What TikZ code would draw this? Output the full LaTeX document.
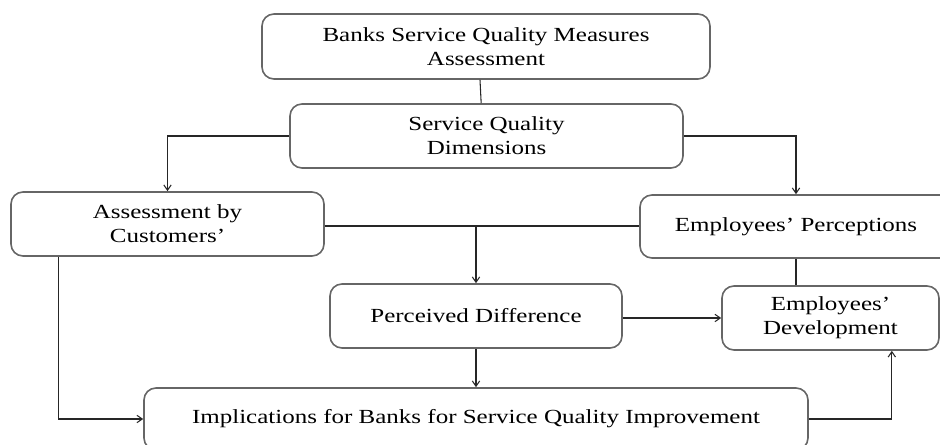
\documentclass[tikz,border=0pt]{standalone}
\usepackage{fontspec}
\setmainfont[FakeStretch=1.25]{Liberation Serif}
\usepackage{tikz}
\usetikzlibrary{arrows.meta}
\usetikzlibrary{calc}
\tikzset{>={Straight Barb[length=4pt,width=5.5pt]}}
\tikzset{
    blk/.style={draw=black!60, line width=1.2pt, rounded corners=9pt, align=center, inner sep=0pt, font=\fontsize{15}{18}\selectfont},
    link/.style={line width=0.8pt, black!85}
}

\begin{document}
\begin{tikzpicture}[x=0.75pt, y=-0.75pt]
    \useasboundingbox (0,0) rectangle (940,445);
    \clip (0,0) rectangle (940,445);

    % Boxes
    \node[blk, minimum width=336pt, minimum height=48.75pt] (meas) at (486,46.5) {Banks Service Quality Measures\\Assessment};
    \node[blk, minimum width=294.75pt, minimum height=48pt] (dims) at (486.5,136) {Service Quality\\Dimensions};
    \node[blk, minimum width=234.75pt, minimum height=48pt] (cust) at (167.5,224) {Assessment by\\Customers'};
    \node[blk, minimum width=234pt, minimum height=47.25pt] (perc) at (796,226.5) {Employees' Perceptions};
    \node[blk, minimum width=219pt, minimum height=48pt] (diff) at (476,316) {Perceived Difference};
    \node[blk, minimum width=162.75pt, minimum height=48pt] (devt) at (830.5,318) {Employees'\\Development};
    \node[blk, minimum width=498pt, minimum height=46.5pt] (impl) at (476,419) {Implications for Banks for Service Quality Improvement};

    % Connectors
    \draw[link] ([xshift=-4.5pt]meas.south) -- ([xshift=-4pt]dims.north);
    \draw[link, ->] (dims.west) -| (cust.north);
    \draw[link, ->] (dims.east) -| (perc.north);
    \draw[link] ([yshift=-1.5pt]cust.east) -- ([yshift=-1.5pt]cust.east -| perc.west);
    \draw[link, ->] ([yshift=-1.5pt]cust.east -| diff.north) -- (diff.north);
    \draw[link] (perc.south) -- (perc.south |- devt.north);
    \draw[link, ->] ([yshift=-1.5pt]diff.east) -- ([yshift=-1.5pt]diff.east -| devt.west);
    \draw[link, ->] (diff.south) -- (impl.north);
    \draw[link, ->] ([xshift=-82pt]cust.south) |- (impl.west);
    \draw[link, ->] (impl.east) -| ([xshift=46pt]devt.south);
\end{tikzpicture}
\end{document}
